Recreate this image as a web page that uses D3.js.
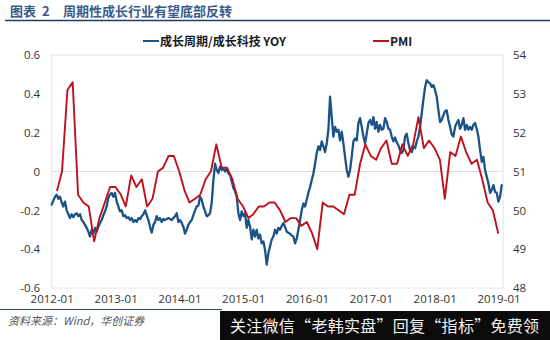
<!DOCTYPE html>
<html>
<head>
<meta charset="utf-8">
<script src="https://cdn.jsdelivr.net/npm/d3@7"></script>
<style>
  html, body { margin: 0; padding: 0; background: #fff; }
  svg { display: block; }
</style>
</head>
<body>
<svg id="chart" width="550" height="340"></svg>
<script>
// ---- data ----
const seriesNames = ["成长周期/成长科技 YOY", "PMI"];

// 成长周期/成长科技 YOY, sampled every ~9.5 days from 2012-01-01
const ratioStart = "2012-01-01";
const ratioStepDays = 9.54;
const ratioValues = [
  -0.17,-0.15,-0.13,-0.12,-0.14,-0.13,-0.16,-0.18,-0.155,-0.20,
  -0.22,-0.24,-0.22,-0.235,-0.22,-0.215,-0.23,-0.22,-0.25,-0.26,
  -0.275,-0.29,-0.31,-0.335,-0.30,-0.32,-0.29,-0.31,-0.285,-0.265,
  -0.25,-0.225,-0.205,-0.18,-0.135,-0.12,-0.11,-0.13,-0.11,-0.155,
  -0.18,-0.205,-0.20,-0.23,-0.225,-0.24,-0.235,-0.25,-0.24,-0.26,
  -0.25,-0.26,-0.24,-0.245,-0.23,-0.22,-0.20,-0.225,-0.25,-0.285,
  -0.315,-0.275,-0.26,-0.23,-0.25,-0.24,-0.26,-0.245,-0.25,-0.245,
  -0.24,-0.245,-0.25,-0.24,-0.23,-0.215,-0.26,-0.25,-0.265,-0.285,
  -0.32,-0.30,-0.275,-0.26,-0.25,-0.225,-0.20,-0.18,-0.175,-0.13,
  -0.145,-0.18,-0.205,-0.23,-0.225,-0.215,-0.16,-0.045,0.04,0.008,
  -0.008,0.025,0.008,0.016,0.0,0.016,-0.01,-0.018,-0.05,-0.085,
  -0.10,-0.13,-0.215,-0.25,-0.205,-0.23,-0.215,-0.29,-0.25,-0.285,
  -0.35,-0.30,-0.335,-0.30,-0.345,-0.325,-0.37,-0.36,-0.405,-0.48,
  -0.42,-0.385,-0.35,-0.335,-0.30,-0.32,-0.29,-0.30,-0.28,-0.265,
  -0.285,-0.31,-0.315,-0.32,-0.33,-0.335,-0.37,-0.345,-0.30,-0.25,
  -0.20,-0.165,-0.18,-0.145,-0.11,-0.08,-0.045,-0.01,0.04,0.095,
  0.13,0.11,0.155,0.13,0.10,0.145,0.215,0.385,0.28,0.18,
  0.23,0.205,0.215,0.16,0.205,0.145,0.075,0.008,-0.027,0.008,
  0.075,0.155,0.17,0.16,0.25,0.275,0.23,0.18,0.145,0.195,
  0.25,0.265,0.24,0.28,0.22,0.255,0.205,0.24,0.215,0.22,
  0.275,0.255,0.22,0.215,0.18,0.155,0.175,0.15,0.135,0.11,
  0.095,0.11,0.18,0.195,0.145,0.11,0.10,0.13,0.12,0.155,
  0.18,0.23,0.30,0.37,0.435,0.47,0.46,0.455,0.435,0.445,
  0.42,0.385,0.315,0.255,0.265,0.29,0.31,0.315,0.265,0.23,
  0.19,0.18,0.23,0.25,0.265,0.22,0.24,0.275,0.215,0.24,
  0.215,0.23,0.215,0.24,0.25,0.22,0.18,0.11,0.05,0.075,
  0.008,-0.027,-0.06,-0.11,-0.095,-0.07,-0.105,-0.11,-0.155,-0.13,-0.07
];

// PMI, monthly from 2012-01
const pmiStart = "2012-01";
const pmiValues = [
  50.5,51.0,53.1,53.3,50.4,50.2,50.1,49.2,49.8,50.2,50.6,50.6,
  50.4,50.1,50.9,50.6,50.8,50.1,50.3,51.0,51.1,51.4,51.4,51.0,
  50.5,50.2,50.3,50.4,50.8,51.0,51.7,51.1,51.1,50.8,50.3,50.1,
  49.8,49.9,50.1,50.1,50.2,50.2,50.0,49.7,49.8,49.8,49.6,49.7,
  49.4,49.0,50.2,50.1,50.1,50.0,49.9,50.4,50.4,51.2,51.7,51.4,
  51.3,51.6,51.8,51.2,51.2,51.7,51.4,51.7,52.4,51.6,51.8,51.6,
  51.3,50.3,51.5,51.4,51.9,51.5,51.2,51.3,50.8,50.2,50.0,49.4
];

const xTickLabels = ["2012-01","2013-01","2014-01","2015-01","2016-01","2017-01","2018-01","2019-01"];
const leftTicks = [-0.6,-0.4,-0.2,0,0.2,0.4,0.6];
const rightTicks = [48,49,50,51,52,53,54];

// ---- build series ----
const parseDay = d3.timeParse("%Y-%m-%d");
const parseMonth = d3.timeParse("%Y-%m");
const r0 = parseDay(ratioStart);
const ratioSeries = ratioValues.map((v, i) => ({
  date: new Date(r0.getTime() + i * ratioStepDays * 864e5), value: v
}));
const p0 = parseMonth(pmiStart);
// monthly readings sit at the end of their month
const pmiSeries = pmiValues.map((v, i) => ({
  date: d3.timeDay.offset(d3.timeMonth.offset(p0, i + 1), -1), value: v
}));

// ---- scales ----
const plot = { left: 51.7, right: 503, top: 55, bottom: 288 };
const x = d3.scaleTime()
  .domain([parseDay("2012-01-01"), parseDay("2019-01-27")])
  .range([plot.left, plot.right]);
const yL = d3.scaleLinear().domain([-0.6, 0.6]).range([plot.bottom, plot.top]);
const yR = d3.scaleLinear().domain([48, 54]).range([plot.bottom, plot.top]);

const blue = "#1b5288";
const red = "#bd111b";
const numFont = "'Open Sans', 'Noto Sans', sans-serif";
const cjkFont = "'Noto Sans CJK SC', 'Noto Sans', sans-serif";

const svg = d3.select("#chart");
svg.append("rect").attr("width", 550).attr("height", 340).attr("fill", "#fff");

// ---- title ----
const title = svg.append("text")
  .attr("y", 16)
  .attr("font-family", cjkFont)
  .attr("font-weight", 700)
  .attr("font-size", 13)
  .attr("fill", "#3a5a8a");
title.append("tspan").attr("x", 10).text("图表");
title.append("tspan").attr("x", 42).text("2");
title.append("tspan").attr("x", 63).text("周期性成长行业有望底部反转");
svg.append("line")
  .attr("x1", 5).attr("x2", 550).attr("y1", 20.5).attr("y2", 20.5)
  .attr("stroke", "#1f3b66").attr("stroke-width", 1.6);

// ---- legend ----
const legend = svg.append("g")
  .attr("font-family", cjkFont).attr("font-weight", 700)
  .attr("font-size", 12).attr("fill", "#1a1a1a");
const legendItems = [
  { name: seriesNames[0], color: blue, x: 143 },
  { name: seriesNames[1], color: red, x: 373 }
];
legendItems.forEach(it => {
  legend.append("line")
    .attr("x1", it.x).attr("x2", it.x + 16).attr("y1", 41).attr("y2", 41)
    .attr("stroke", it.color).attr("stroke-width", 2);
  legend.append("text").attr("x", it.x + 17).attr("y", 45.5).text(it.name);
});

// ---- plot frame and zero line ----
svg.append("rect")
  .attr("x", plot.left).attr("y", plot.top)
  .attr("width", plot.right - plot.left).attr("height", plot.bottom - plot.top)
  .attr("fill", "none").attr("stroke", "#e3e3e3").attr("stroke-width", 1);
svg.append("line")
  .attr("x1", plot.left).attr("x2", plot.right)
  .attr("y1", yL(0)).attr("y2", yL(0))
  .attr("stroke", "#dcdcdc").attr("stroke-width", 1);

// ---- axes ----
const fmtLeft = d => d === 0 ? "0" : d.toFixed(1);
function styleAxis(g) {
  g.select(".domain").remove();
  g.selectAll("line").remove();
  g.selectAll("text")
    .attr("font-family", numFont).attr("font-size", 11.5).attr("fill", "#333");
}
svg.append("g")
  .attr("transform", `translate(${plot.left},0)`)
  .call(d3.axisLeft(yL).tickValues(leftTicks).tickFormat(fmtLeft).tickSize(0).tickPadding(11.5))
  .call(styleAxis);
svg.append("g")
  .attr("transform", `translate(${plot.right},0)`)
  .call(d3.axisRight(yR).tickValues(rightTicks).tickFormat(d3.format("d")).tickSize(0).tickPadding(10))
  .call(styleAxis);
svg.append("g")
  .attr("transform", `translate(0,${plot.bottom})`)
  .call(d3.axisBottom(x).tickValues(xTickLabels.map(parseMonth))
    .tickFormat(d3.timeFormat("%Y-%m")).tickSize(0).tickPadding(7))
  .call(styleAxis);

// ---- lines ----
svg.append("path")
  .datum(ratioSeries)
  .attr("fill", "none").attr("stroke", blue).attr("stroke-width", 2.3)
  .attr("stroke-linejoin", "round").attr("stroke-linecap", "round")
  .attr("d", d3.line().x(d => x(d.date)).y(d => yL(d.value)));
svg.append("path")
  .datum(pmiSeries)
  .attr("fill", "none").attr("stroke", red).attr("stroke-width", 1.9)
  .attr("stroke-linejoin", "round")
  .attr("d", d3.line().x(d => x(d.date)).y(d => yR(d.value)));

// ---- footer ----
svg.append("line")
  .attr("x1", 0).attr("x2", 222).attr("y1", 309.5).attr("y2", 309.5)
  .attr("stroke", "#2f4a6d").attr("stroke-width", 1.2);
svg.append("text")
  .attr("x", 8).attr("y", 324.5)
  .attr("font-family", cjkFont).attr("font-style", "italic")
  .attr("font-size", 11).attr("fill", "#555")
  .text("资料来源：Wind，华创证券");

svg.append("rect")
  .attr("x", 220).attr("y", 311).attr("width", 330).attr("height", 29)
  .attr("fill", "#0b0b0b");
svg.append("text")
  .attr("x", 230).attr("y", 332)
  .attr("font-family", cjkFont).attr("font-size", 16).attr("fill", "#f2f2f2")
  .attr("textLength", 309).attr("lengthAdjust", "spacing")
  .text("关注微信“老韩实盘”回复“指标”免费领");
</script>
</body>
</html>
